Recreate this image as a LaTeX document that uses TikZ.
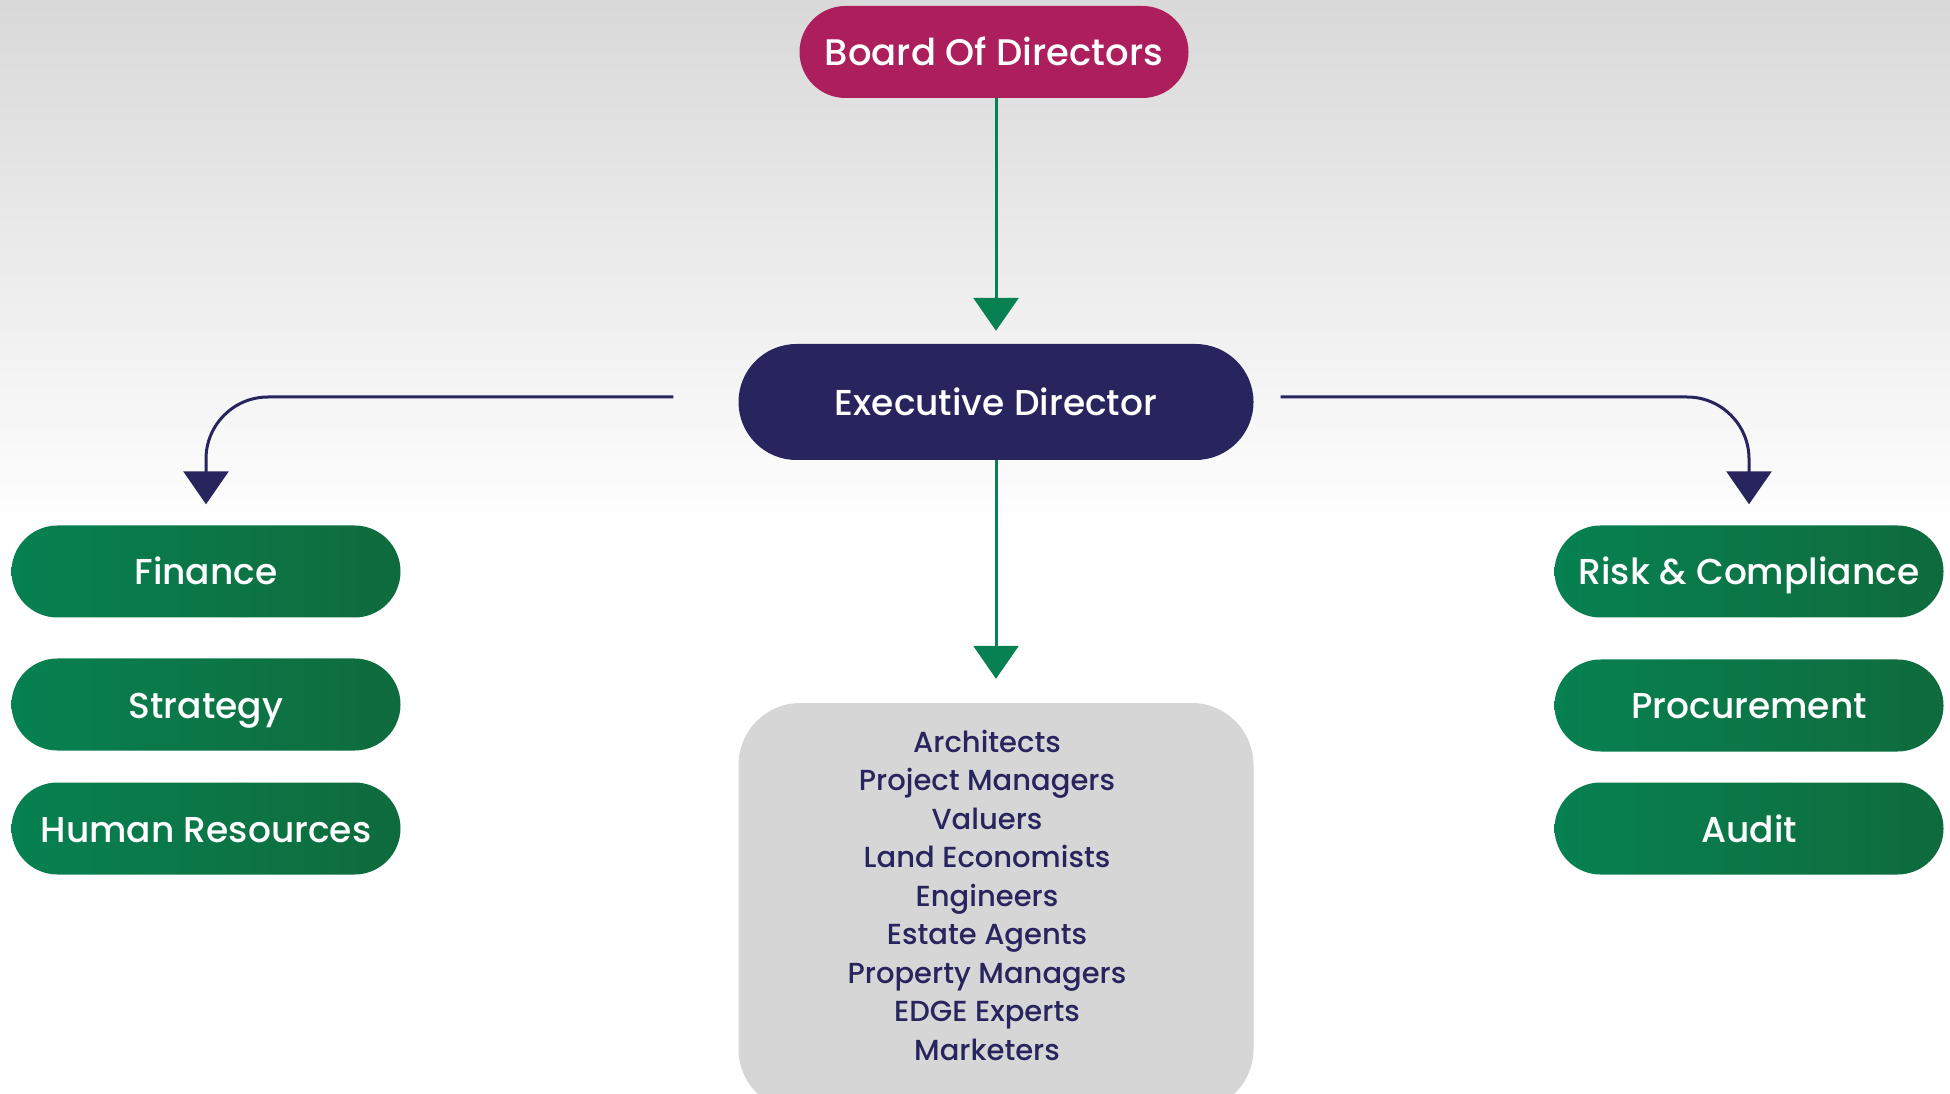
\documentclass[tikz,border=0pt]{standalone}
\usepackage{fontspec}
\setmainfont{Poppins}[UprightFont=* Medium]
\usetikzlibrary{shapes.misc,arrows.meta}
\definecolor{boardred}{HTML}{AD1F5C}
\definecolor{execblue}{HTML}{28245E}
\definecolor{deptgreen}{HTML}{078151}
\definecolor{deptdark}{HTML}{0F6B3D}
\definecolor{staffgray}{HTML}{D6D6D6}
\tikzset{
  pill/.style={rounded rectangle, minimum width=389pt, minimum height=92pt,
    inner sep=0pt, text height=27pt, text depth=0pt,
    text=white, font=\fontsize{36}{44}\selectfont},
  dept/.style={pill, left color=deptgreen, right color=deptdark},
  greenline/.style={draw=deptgreen, line width=3pt,
    -{Triangle[width=45pt,length=33pt]}},
  blueline/.style={draw=execblue, line width=3pt, rounded corners=62pt,
    -{Triangle[width=45pt,length=33pt]}}
}
\begin{document}
\begin{tikzpicture}[x=1pt,y=1pt]
    \useasboundingbox (0,0) rectangle (1950,1093);
    \clip (0,0) rectangle (1950,1093);
    % background
    \fill[white] (0,0) rectangle (1950,1093);
    \shade[top color=black!15, bottom color=white] (0,560) rectangle (1950,1093);

    % top of the chart
    \node[pill, fill=boardred, font=\fontsize{37}{44}\selectfont] (board) at (994,1041) {Board Of Directors};
    \node[pill, fill=execblue, minimum width=515pt, minimum height=116pt] (exec) at (996,691) {Executive Director};

    % staff box
    \node[fill=staffgray, rounded corners=62pt, minimum width=515pt, minimum height=408pt] (staff) at (996,186) {};
    \node[text=execblue, align=center, font=\fontsize{29}{38.5}\selectfont] (stafflist) at ([xshift=-9pt,yshift=12pt]staff.center)
        {Architects\\Project Managers\\Valuers\\Land Economists\\Engineers\\Estate Agents\\Property Managers\\EDGE Experts\\Marketers};

    % departments
    \node[dept] (finance) at (206,521.5) {Finance};
    \node[dept] (strategy) at (206,388.5) {Strategy};
    \node[dept] (hr) at (206,264.5) {Human Resources};
    \node[dept] (risk) at (1749,521.5) {Risk \& Compliance};
    \node[dept] (procurement) at (1749,387.5) {Procurement};
    \node[dept] (audit) at (1749,264.5) {Audit};

    % connectors
    \draw[greenline] (board.south -| exec.north) -- ([yshift=13pt]exec.north);
    \draw[greenline] (exec.south) -- ([yshift=24pt]staff.north);
    \draw[blueline] ([xshift=-65pt,yshift=5pt]exec.west) -| ([yshift=21pt]finance.north);
    \draw[blueline] ([xshift=27pt,yshift=5pt]exec.east) -| ([yshift=21pt]risk.north);
\end{tikzpicture}
\end{document}
